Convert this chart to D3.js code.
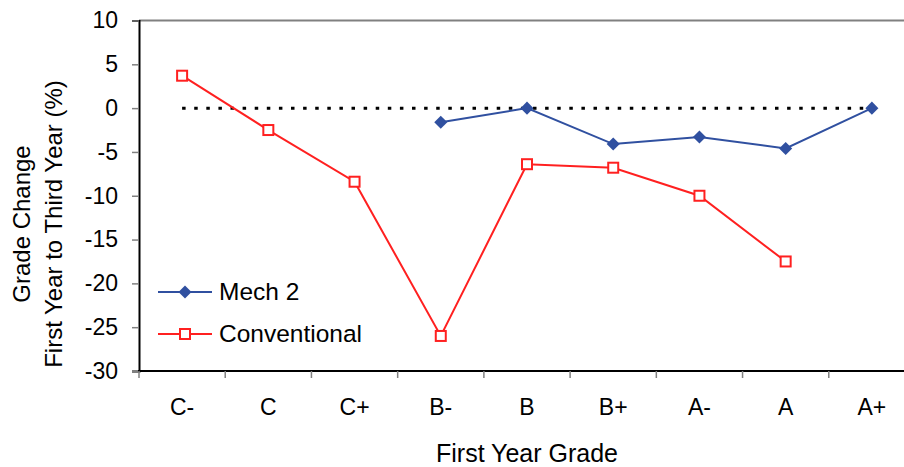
<!DOCTYPE html>
<html>
<head>
<meta charset="utf-8">
<script src="https://cdn.jsdelivr.net/npm/d3@7"></script>
<style>
  body { margin: 0; background: #fff; }
  text { font-family: "Liberation Sans", Arial, sans-serif; fill: #000; }
</style>
</head>
<body>
<script>
// grades on the x axis
let grades = ["C-", "C", "C+", "B-", "B", "B+", "A-", "A", "A+"];
let yTicks = [10, 5, 0, -5, -10, -15, -20, -25, -30];

// null = no point for that grade
let mech2 = [null, null, null, -1.6, 0, -4.1, -3.3, -4.6, 0];
let conventional = [3.7, -2.5, -8.4, -26, -6.4, -6.8, -10, -17.5, null];

let width = 904;
let height = 467;
let plotLeft = 139, plotTop = 20.5, plotW = 776, plotBottom = 371;

let svg = d3.select("body").append("svg")
    .attr("width", width)
    .attr("height", height);

let x = d3.scaleBand().domain(grades).range([plotLeft, plotLeft + plotW]);
let y = d3.scaleLinear().domain([-30, 10]).range([plotBottom, plotTop]);

// top border
svg.append("line")
    .attr("x1", plotLeft).attr("x2", width)
    .attr("y1", plotTop).attr("y2", plotTop)
    .attr("stroke", "#808080").attr("stroke-width", 2);

// y axis
let yAxis = svg.append("g")
    .attr("transform", `translate(${plotLeft},0)`)
    .call(d3.axisLeft(y).tickValues(yTicks).tickFormat(d => String(d)).tickSize(7).tickPadding(14));
yAxis.select(".domain").attr("stroke", "#000").attr("stroke-width", 2);
yAxis.selectAll(".tick line").attr("stroke", "#808080").attr("stroke-width", 1.5);
yAxis.selectAll("text").attr("font-size", 23).attr("font-family", "Liberation Sans, Arial, sans-serif").attr("fill", "#000");

// x axis
let xAxis = svg.append("g")
    .attr("transform", `translate(0,${plotBottom})`)
    .call(d3.axisBottom(x).tickSize(0).tickPadding(28));
xAxis.select(".domain").remove();
xAxis.selectAll("text").attr("font-size", 23).attr("font-family", "Liberation Sans, Arial, sans-serif").attr("fill", "#000");
svg.append("line")
    .attr("x1", plotLeft - 1).attr("x2", width)
    .attr("y1", plotBottom).attr("y2", plotBottom)
    .attr("stroke", "#000").attr("stroke-width", 2);
svg.selectAll(".xtick")
    .data(d3.range(grades.length + 1))
    .enter().append("line")
    .attr("x1", d => plotLeft + d * x.step()).attr("x2", d => plotLeft + d * x.step())
    .attr("y1", plotBottom).attr("y2", plotBottom + 7)
    .attr("stroke", "#808080").attr("stroke-width", 1.5);

// zero reference line
let cx = d => x(d) + x.bandwidth() / 2;
svg.append("line")
    .attr("x1", cx("C-")).attr("x2", cx("A+"))
    .attr("y1", y(0)).attr("y2", y(0))
    .attr("stroke", "#000").attr("stroke-width", 3)
    .attr("stroke-dasharray", "3.5 8.6");

let line = d3.line()
    .defined(d => d.v !== null)
    .x(d => cx(d.g))
    .y(d => y(d.v));

let blue = "#3050A0", red = "#FF2020";
let mechPts = grades.map((g, i) => ({ g: g, v: mech2[i] }));
let convPts = grades.map((g, i) => ({ g: g, v: conventional[i] }));

svg.append("path").datum(mechPts)
    .attr("d", line).attr("fill", "none")
    .attr("stroke", blue).attr("stroke-width", 2);
svg.append("path").datum(convPts)
    .attr("d", line).attr("fill", "none")
    .attr("stroke", red).attr("stroke-width", 2);

let diamond = d3.symbol().type(d3.symbolSquare).size(85);
svg.selectAll(".mech")
    .data(mechPts.filter(d => d.v !== null))
    .enter().append("path")
    .attr("d", diamond)
    .attr("transform", d => `translate(${cx(d.g)},${y(d.v)}) rotate(45)`)
    .attr("fill", blue);

svg.selectAll(".conv")
    .data(convPts.filter(d => d.v !== null))
    .enter().append("rect")
    .attr("x", d => cx(d.g) - 5).attr("y", d => y(d.v) - 5)
    .attr("width", 10).attr("height", 10)
    .attr("fill", "#fff").attr("stroke", red).attr("stroke-width", 2);

// legend
let legend = svg.append("g");
legend.append("line").attr("x1", 158).attr("x2", 212).attr("y1", 292).attr("y2", 292)
    .attr("stroke", blue).attr("stroke-width", 2);
legend.append("path").attr("d", diamond)
    .attr("transform", "translate(185,292) rotate(45)").attr("fill", blue);
legend.append("text").attr("x", 219).attr("y", 300).attr("font-size", 24.5).text("Mech 2");
legend.append("line").attr("x1", 158).attr("x2", 212).attr("y1", 334).attr("y2", 334)
    .attr("stroke", red).attr("stroke-width", 2);
legend.append("rect").attr("x", 180).attr("y", 329).attr("width", 10).attr("height", 10)
    .attr("fill", "#fff").attr("stroke", red).attr("stroke-width", 2);
legend.append("text").attr("x", 219).attr("y", 342).attr("font-size", 24.5).text("Conventional");

// titles
svg.append("text")
    .attr("transform", "translate(30,224) rotate(-90)")
    .attr("text-anchor", "middle").attr("font-size", 24)
    .text("Grade Change");
svg.append("text")
    .attr("transform", "translate(62,224) rotate(-90)")
    .attr("text-anchor", "middle").attr("font-size", 24)
    .text("First Year to Third Year (%)");
svg.append("text")
    .attr("x", 527).attr("y", 462)
    .attr("text-anchor", "middle").attr("font-size", 25)
    .text("First Year Grade");
</script>
</body>
</html>
